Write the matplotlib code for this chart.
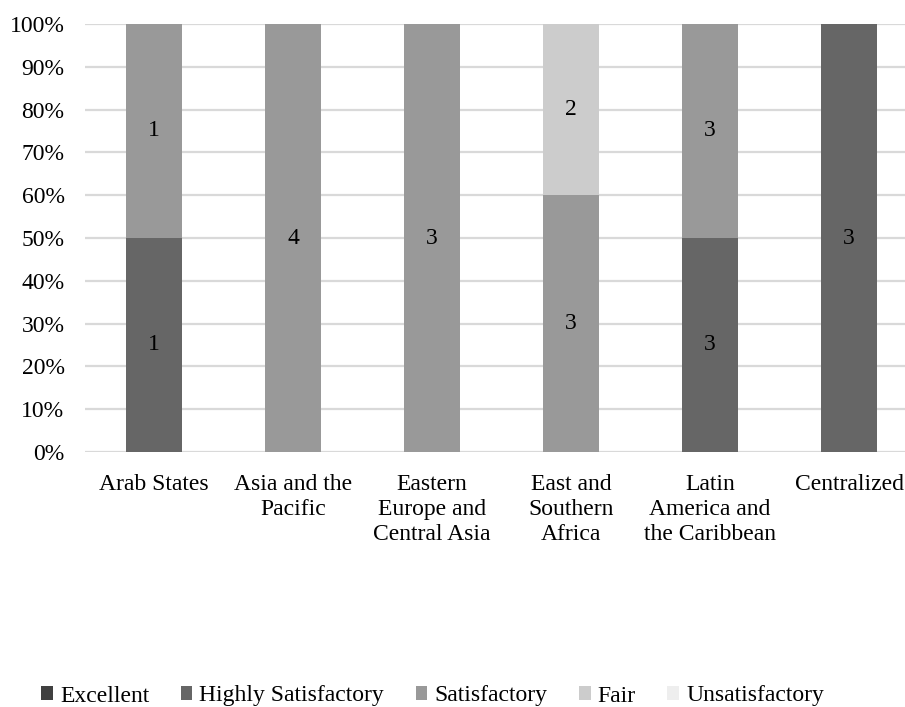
import matplotlib
matplotlib.use("Agg")
import matplotlib.pyplot as plt
import numpy as np
from matplotlib.ticker import PercentFormatter

plt.rcParams["font.family"] = ["Liberation Serif", "DejaVu Serif"]

regions = [
    "Arab States",
    "Asia and the\nPacific",
    "Eastern\nEurope and\nCentral Asia",
    "East and\nSouthern\nAfrica",
    "Latin\nAmerica and\nthe Caribbean",
    "Centralized",
]
ratings = ["Excellent", "Highly Satisfactory", "Satisfactory", "Fair", "Unsatisfactory"]
colors = ["#404040", "#666666", "#999999", "#cccccc", "#eeeeee"]

# number of evaluations per rating, one list per rating
counts = {
    "Excellent":           [0, 0, 0, 0, 0, 0],
    "Highly Satisfactory": [1, 0, 0, 0, 3, 3],
    "Satisfactory":        [1, 4, 3, 3, 3, 0],
    "Fair":                [0, 0, 0, 2, 0, 0],
    "Unsatisfactory":      [0, 0, 0, 0, 0, 0],
}

FS = 17
W, H = 905, 707
fig = plt.figure(figsize=(W / 100, H / 100), dpi=100)
ax = fig.add_axes([84.5 / W, (H - 452) / H, 834 / W, 428 / H])

mat = np.array([counts[r] for r in ratings], dtype=float)
totals = mat.sum(axis=0)
x = np.arange(len(regions))
bottom = np.zeros(len(regions))
for r, c in zip(ratings, colors):
    vals = np.array(counts[r], dtype=float)
    share = vals / totals
    ax.bar(x, share, 0.4, bottom=bottom, color=c, label=r, zorder=3)
    for xi, v, s, b in zip(x, vals, share, bottom):
        if v > 0:
            ax.text(xi, b + s / 2, f"{int(v)}", ha="center", va="center",
                    fontsize=FS, color="black", zorder=4)
    bottom += share

ax.set_xlim(-0.5, len(regions) - 0.5)
ax.set_ylim(0, 1)
ax.set_yticks(np.arange(0, 1.01, 0.1))
ax.yaxis.set_major_formatter(PercentFormatter(1.0, decimals=0))
ax.grid(axis="y", color="#d9d9d9", linewidth=1.6, zorder=0)
ax.set_axisbelow(True)
for s in ax.spines.values():
    s.set_visible(False)
ax.tick_params(axis="both", length=0, labelsize=FS)
ax.tick_params(axis="y", pad=14.4)
ax.tick_params(axis="x", pad=16)
ax.set_xticks(x)
ax.set_xticklabels(regions, linespacing=1.24)

leg = fig.legend(loc="center", bbox_to_anchor=(0.478, (H - 696) / H), ncol=5,
                 frameon=False, fontsize=FS, handlelength=0.5, handleheight=0.5,
                 handletextpad=0.3, columnspacing=1.33)

fig.savefig("out.png", dpi=100)
